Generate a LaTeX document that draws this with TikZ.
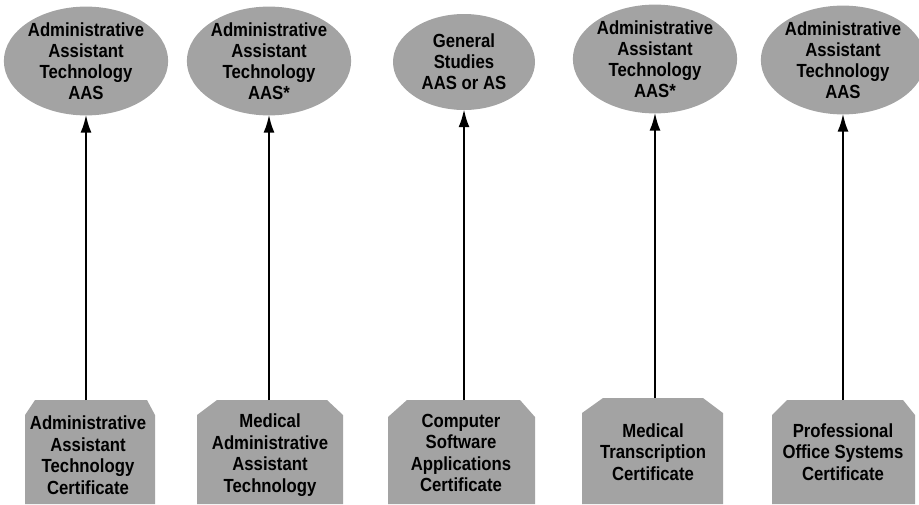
\documentclass[tikz,border=0pt]{standalone}
\usepackage{fontspec}
\setmainfont{Liberation Sans}
\newfontfamily\condfont[FakeStretch=0.88]{Liberation Sans}
\usetikzlibrary{shapes.geometric,arrows.meta}
\tikzset{
  halftone/.style={fill=black!36, draw=none},
  oval/.style={halftone, ellipse, inner sep=0pt, minimum width=142pt, minimum height=100pt,
    align=center, font=\condfont\fontsize{19}{21}\selectfont\bfseries},
  lbl/.style={align=center, inner sep=0pt, font=\condfont\fontsize{19}{21.5}\selectfont\bfseries},
  arr/.style={line width=2.3pt, -{Latex[length=18pt,width=11pt]}, shorten >=-1pt}
}
\begin{document}
\begin{tikzpicture}[x=1pt,y=-1pt]
\useasboundingbox (0,0) rectangle (919,504);
% top ellipses
\node[oval] (e1) at (86,61) {Administrative\\Assistant\\Technology\\AAS};
\node[oval] (e2) at (269,61) {Administrative\\Assistant\\Technology\\AAS*};
\node[oval, minimum height=96pt] (e3) at (464,62) {General\\Studies\\AAS or AS};
\node[oval, minimum height=102pt] (e4) at (655,59) {Administrative\\Assistant\\Technology\\AAS*};
\node[oval, minimum width=140pt] (e5) at (843,60) {Administrative\\Assistant\\Technology\\AAS};
% bottom badges
\fill[halftone] (35,400) -- (147,400) -- (155,415) -- (155,504) -- (25,504) -- (25,415) -- cycle;
\fill[halftone] (217,400) -- (327,400) -- (343,415) -- (343,504) -- (197,504) -- (197,415) -- cycle;
\fill[halftone] (407,400) -- (520,400) -- (535,417) -- (535,504) -- (388,504) -- (388,417) -- cycle;
\fill[halftone] (603,398) -- (703,398) -- (723,413) -- (723,504) -- (582,504) -- (582,413) -- cycle;
\fill[halftone] (787,400) -- (903,400) -- (915,415) -- (915,504) -- (772,504) -- (772,415) -- cycle;
\node[lbl] (b1) at (88,455) {Administrative\\Assistant\\Technology\\Certificate};
\node[lbl] (b2) at (270,455) {Medical\\Administrative\\Assistant\\Technology};
\node[lbl] (b3) at (461,453) {Computer\\Software\\Applications\\Certificate};
\node[lbl] (b4) at (653,452) {Medical\\Transcription\\Certificate};
\node[lbl] (b5) at (843,452) {Professional\\Office Systems\\Certificate};
\coordinate (t1) at (86,400);
\coordinate (t2) at (269,400);
\coordinate (t3) at (464,400);
\coordinate (t4) at (655,398);
\coordinate (t5) at (843,400);
% arrows
\draw[arr] (t1) -- (e1.south);
\draw[arr] (t2) -- (e2.south);
\draw[arr] (t3) -- (e3.south);
\draw[arr] (t4) -- (e4.south);
\draw[arr] (t5) -- (e5.south);
\end{tikzpicture}
\end{document}
